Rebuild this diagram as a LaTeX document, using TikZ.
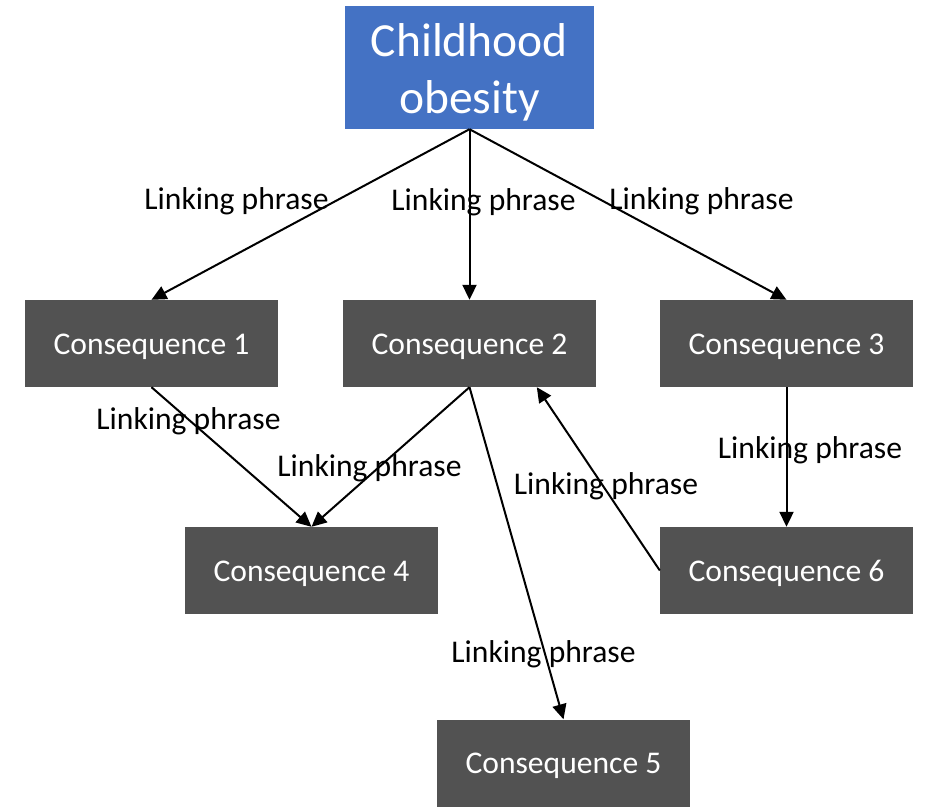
\documentclass[tikz,border=0pt]{standalone}
\usepackage{fontspec}
\setmainfont{Carlito}
\usetikzlibrary{arrows.meta}
\definecolor{topblue}{HTML}{4472C4}
\definecolor{boxgray}{HTML}{525252}
\begin{document}
\begin{tikzpicture}[x=1pt, y=-1pt,
        topic/.style={fill=topblue, text=white, minimum width=249pt, minimum height=123pt, inner sep=0pt, align=center, font=\fontsize{47.5}{57}\selectfont},
        conseq/.style={fill=boxgray, text=white, minimum width=253pt, minimum height=87pt, inner sep=0pt, text height=27pt, text depth=6pt, font=\fontsize{31.6}{38}\selectfont},
        linkph/.style={inner sep=0pt, font=\fontsize{31.6}{38}\selectfont},
        link/.style={line width=2pt, -{Triangle[length=15pt, width=14pt]}}]
                \useasboundingbox (0, 0) rectangle (925, 806);

                \node[topic] (T) at (469.5, 67.5) { \rule{0pt}{42pt}Childhood\\obesity };
                \node[conseq] (C1) at (151.5, 343.5) { Consequence 1 };
                \node[conseq] (C2) at (469.5, 343.5) { Consequence 2 };
                \node[conseq] (C3) at (786.5, 343.5) { Consequence 3 };
                \node[conseq] (C4) at (311.5, 570.5) { Consequence 4 };
                \node[conseq] (C6) at (786.5, 570.5) { Consequence 6 };
                \node[conseq] (C5) at (563.5, 763) { Consequence 5 };

                \draw[link] (T.south) to (C1.north);
                \draw[link] (T.south) to (C2.north);
                \draw[link] (T.south) to (C3.north);
                \draw[link] (C1.south) to (C4.north);
                \draw[link] (C2.south) to (C4.north);
                \draw[link] (C2.south) to (C5.north);
                \draw[link] (C3.south) to (C6.north);
                \draw[link] (C6.west) to (C2.-33.6);

                \node[linkph] (L1) at (236.5, 201) { Linking phrase };
                \node[linkph] (L2) at (483.5, 202) { Linking phrase };
                \node[linkph] (L3) at (701.5, 201) { Linking phrase };
                \node[linkph] (L4) at (188.5, 421) { Linking phrase };
                \node[linkph] (L5) at (369.5, 468) { Linking phrase };
                \node[linkph] (L6) at (606, 486) { Linking phrase };
                \node[linkph] (L7) at (810, 450) { Linking phrase };
                \node[linkph] (L8) at (543.5, 654) { Linking phrase };
            \end{tikzpicture}
\end{document}
